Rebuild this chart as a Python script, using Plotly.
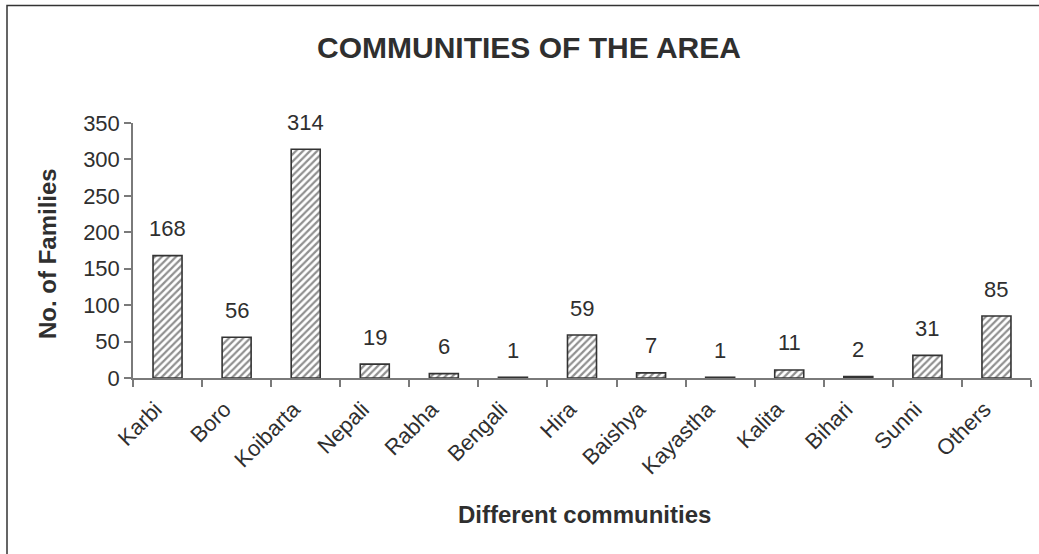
import plotly.graph_objects as go

categories = ["Karbi", "Boro", "Koibarta", "Nepali", "Rabha", "Bengali", "Hira",
              "Baishya", "Kayastha", "Kalita", "Bihari", "Sunni", "Others"]
families = [168, 56, 314, 19, 6, 1, 59, 7, 1, 11, 2, 31, 85]
y_ticks = [0, 50, 100, 150, 200, 250, 300, 350]

W, H = 1039, 554
L, R, T, B = 133, 8, 123, 176
pw, ph = W - L - R, H - T - B

FONT = "Liberation Sans, Arial, sans-serif"
TXT = "#2f2f2f"
AX = "#7a7a7a"

fig = go.Figure()
fig.add_trace(go.Bar(
    x=categories, y=families,
    marker=dict(color="white",
                line=dict(color="#333333", width=1.6),
                pattern=dict(shape="/", fgcolor="#222222", bgcolor="white",
                             size=5, solidity=0.45)),
    width=0.42,
    hoverinfo="x+y",
))

annotations = []
for c, v in zip(categories, families):
    annotations.append(dict(x=c, y=v, xref="x", yref="y", text=str(v),
                            showarrow=False, yanchor="middle", yshift=27,
                            font=dict(family=FONT, size=22, color=TXT)))

annotations.append(dict(text="<b>No. of Families</b>", xref="paper", yref="paper",
                        x=(47 - L) / pw, y=(H - B - 254) / ph,
                        textangle=-90, showarrow=False, xanchor="center", yanchor="middle",
                        font=dict(family=FONT, size=24, color=TXT)))
annotations.append(dict(text="<b>Different communities</b>", xref="paper", yref="paper",
                        x=(584 - L) / pw, y=(H - B - 514) / ph,
                        showarrow=False, xanchor="center", yanchor="middle",
                        font=dict(family=FONT, size=24, color=TXT)))

fig.update_layout(
    width=W, height=H,
    margin=dict(l=L, r=R, t=T, b=B, autoexpand=False),
    paper_bgcolor="white", plot_bgcolor="white",
    showlegend=False,
    title=dict(text="<b>COMMUNITIES OF THE AREA</b>", x=529 / W, xref="container",
               y=1 - 47 / H, yref="container", xanchor="center", yanchor="middle",
               font=dict(family=FONT, size=30, color=TXT)),
    xaxis=dict(type="category", showline=True, linecolor=AX, linewidth=1.5,
               ticks="outside", tickson="boundaries", ticklen=7, tickcolor=AX, tickwidth=1.5,
               tickangle=-45, tickfont=dict(family=FONT, size=22, color=TXT),
               ticklabelshift=-12, ticklabelstandoff=8,
               showgrid=False, zeroline=False, range=[-0.5, len(categories) - 0.5]),
    yaxis=dict(range=[0, 350], tickvals=y_ticks, showline=True, linecolor=AX, linewidth=1.5,
               ticks="outside", ticklen=7, tickcolor=AX, tickwidth=1.5,
               tickfont=dict(family=FONT, size=22, color=TXT),
               showgrid=False, zeroline=False),
    annotations=annotations,
    shapes=[dict(type="rect", xref="paper", yref="paper",
                 x0=(7 - L) / pw, x1=(W + 20 - L) / pw, y0=-(B + 20) / ph, y1=(H - B - 5.5) / ph,
                 line=dict(color="#333333", width=1.5), fillcolor="rgba(0,0,0,0)",
                 layer="below")],
)

fig.write_html("out.html", config={"displayModeBar": False},
               post_script="document.body.style.margin='0';document.body.style.overflow='hidden';")
